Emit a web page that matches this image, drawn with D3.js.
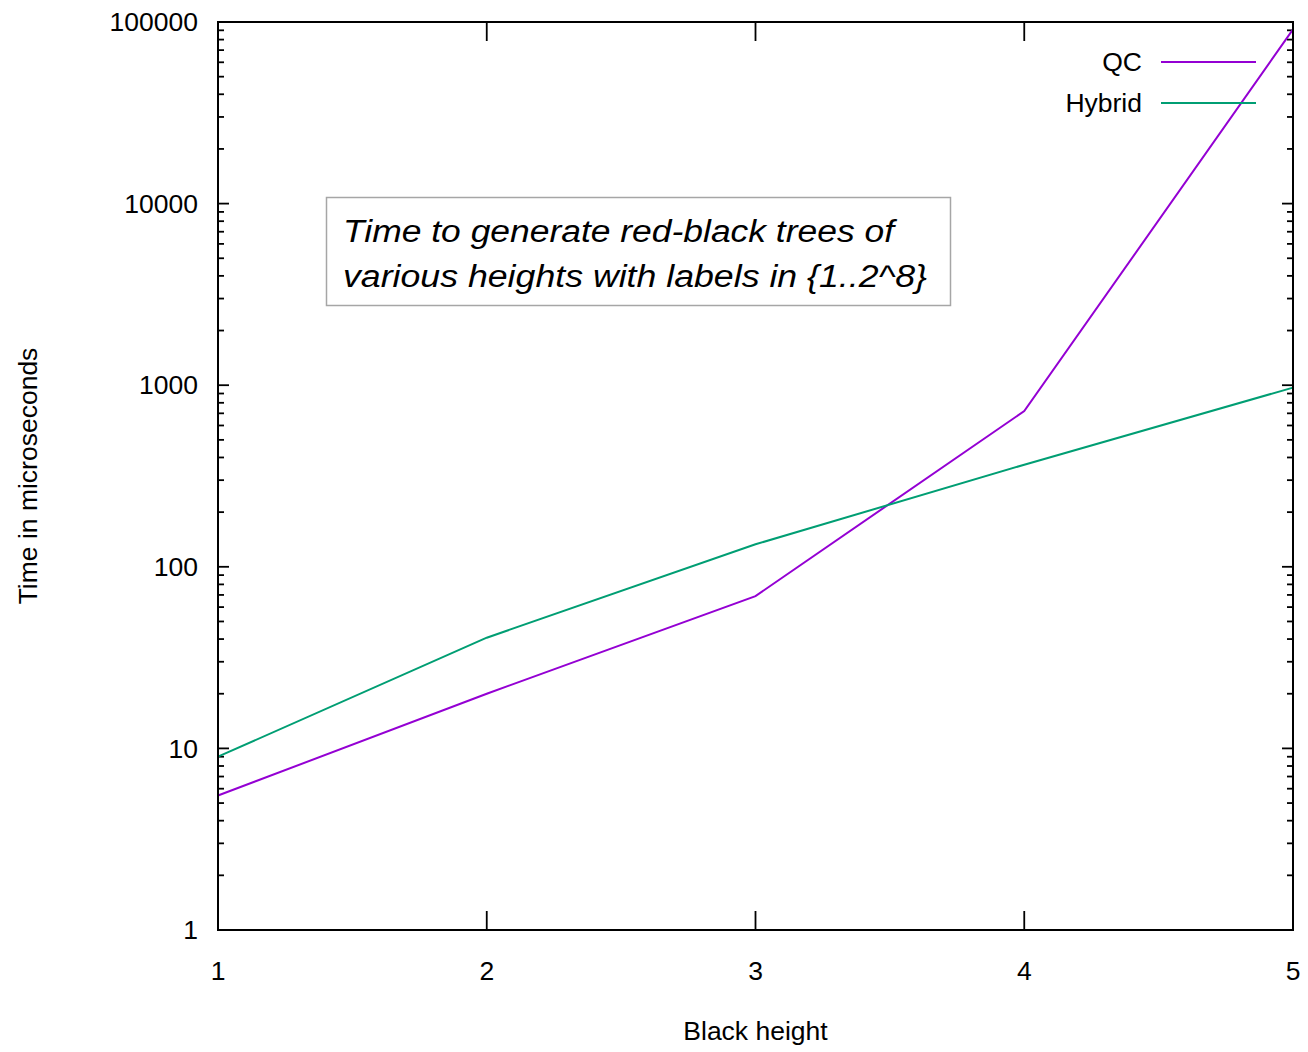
<!DOCTYPE html>
<html>
<head>
<meta charset="utf-8">
<script src="https://cdn.jsdelivr.net/npm/d3@7"></script>
<style>
  body { margin: 0; background: #fff; }
  text { font-family: "Liberation Sans", Arial, sans-serif; fill: #000; }
</style>
</head>
<body>
<svg id="chart"></svg>
<script>
const heights = [1, 2, 3, 4, 5];
const qcTimes = [5.5, 20, 69, 720, 91000];
const hybridTimes = [9.0, 40.7, 133, 365, 970];
const yTicks = [1, 10, 100, 1000, 10000, 100000];
const seriesNames = ["QC", "Hybrid"];
const seriesColors = ["#9400d3", "#009e73"];
const noteLines = ["Time to generate red-black trees of", "various heights with labels in {1..2^8}"];

const width = 1308;
const height = 1052;
const margin = { top: 22, right: 15, bottom: 122, left: 218 };
const fontSize = 26.5;

const svg = d3.select("#chart")
  .attr("width", width)
  .attr("height", height);

const xScale = d3.scaleLinear()
  .domain([1, 5])
  .range([margin.left, width - margin.right]);

const yScale = d3.scaleLog()
  .domain([1, 100000])
  .range([height - margin.bottom, margin.top]);

const x0 = xScale.range()[0], x1 = xScale.range()[1];
const y0 = yScale.range()[0], y1 = yScale.range()[1];

// minor ticks 2..9 in each decade
const minorTicks = [];
yTicks.slice(0, -1).forEach(d => {
  for (let k = 2; k <= 9; k++) minorTicks.push(d * k);
});

const tickGroup = svg.append("g").attr("stroke", "#000").attr("stroke-width", 1.8);

// y major and minor ticks, both sides, pointing inward
yTicks.forEach(d => {
  tickGroup.append("line").attr("x1", x0).attr("x2", x0 + 11).attr("y1", yScale(d)).attr("y2", yScale(d));
  tickGroup.append("line").attr("x1", x1).attr("x2", x1 - 11).attr("y1", yScale(d)).attr("y2", yScale(d));
});
minorTicks.forEach(d => {
  tickGroup.append("line").attr("x1", x0).attr("x2", x0 + 6).attr("y1", yScale(d)).attr("y2", yScale(d));
  tickGroup.append("line").attr("x1", x1).attr("x2", x1 - 6).attr("y1", yScale(d)).attr("y2", yScale(d));
});

// x ticks, top and bottom
heights.forEach(d => {
  tickGroup.append("line").attr("x1", xScale(d)).attr("x2", xScale(d)).attr("y1", y0).attr("y2", y0 - 19);
  tickGroup.append("line").attr("x1", xScale(d)).attr("x2", xScale(d)).attr("y1", y1).attr("y2", y1 + 19);
});

// tick labels
svg.append("g")
  .selectAll("text")
  .data(yTicks)
  .enter().append("text")
  .attr("x", x0 - 20)
  .attr("y", d => yScale(d))
  .attr("dy", "0.35em")
  .attr("text-anchor", "end")
  .attr("font-size", fontSize)
  .text(d => d);

svg.append("g")
  .selectAll("text")
  .data(heights)
  .enter().append("text")
  .attr("x", d => xScale(d))
  .attr("y", y0 + 50)
  .attr("text-anchor", "middle")
  .attr("font-size", fontSize)
  .text(d => d);

// axis titles
svg.append("text")
  .attr("x", (x0 + x1) / 2)
  .attr("y", 1040)
  .attr("text-anchor", "middle")
  .attr("font-size", fontSize)
  .text("Black height");

svg.append("text")
  .attr("transform", `translate(37, ${(y0 + y1) / 2}) rotate(-90)`)
  .attr("text-anchor", "middle")
  .attr("font-size", fontSize)
  .text("Time in microseconds");

// note box
svg.append("rect")
  .attr("x", 326.5)
  .attr("y", 197.5)
  .attr("width", 624)
  .attr("height", 108)
  .attr("fill", "#fff")
  .attr("stroke", "#a6a6a6")
  .attr("stroke-width", 1.5);

svg.append("g")
  .selectAll("text")
  .data(noteLines)
  .enter().append("text")
  .attr("x", 343)
  .attr("y", (d, i) => 242 + i * 45)
  .attr("font-family", "'Open Sans', sans-serif")
  .attr("font-style", "italic")
  .attr("font-size", 31)
  .attr("textLength", (d, i) => i === 0 ? 551 : 584)
  .attr("lengthAdjust", "spacingAndGlyphs")
  .text(d => d);

// data lines
const line = d3.line()
  .x((d, i) => xScale(heights[i]))
  .y(d => yScale(d));

[qcTimes, hybridTimes].forEach((values, i) => {
  svg.append("path")
    .datum(values)
    .attr("fill", "none")
    .attr("stroke", seriesColors[i])
    .attr("stroke-width", 2)
    .attr("d", line);
});

// legend
seriesNames.forEach((name, i) => {
  const ly = 62 + i * 41;
  svg.append("text")
    .attr("x", 1142)
    .attr("y", ly)
    .attr("dy", "0.35em")
    .attr("text-anchor", "end")
    .attr("font-size", fontSize)
    .text(name);
  svg.append("line")
    .attr("x1", 1161).attr("x2", 1256)
    .attr("y1", ly).attr("y2", ly)
    .attr("stroke", seriesColors[i])
    .attr("stroke-width", 2);
});

// frame
svg.append("rect")
  .attr("x", x0)
  .attr("y", y1)
  .attr("width", x1 - x0)
  .attr("height", y0 - y1)
  .attr("fill", "none")
  .attr("stroke", "#000")
  .attr("stroke-width", 2);
</script>
</body>
</html>
